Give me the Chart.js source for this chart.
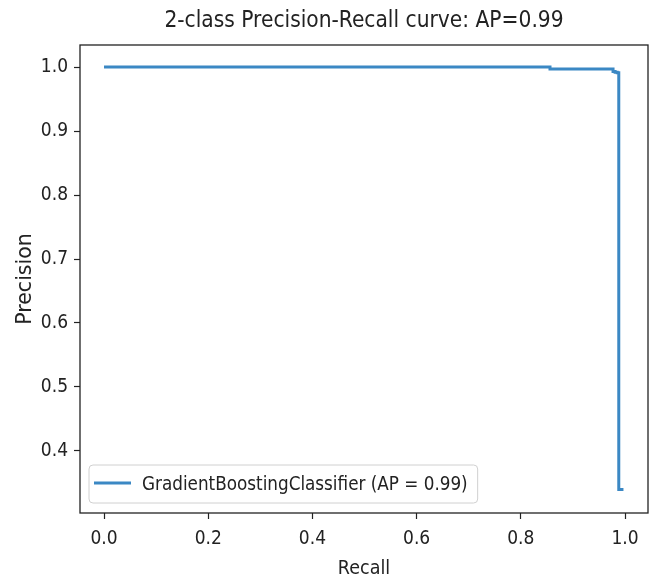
<!DOCTYPE html>
<html>
<head>
<meta charset="utf-8">
<script src="https://cdn.jsdelivr.net/npm/chart.js@4/dist/chart.umd.min.js"></script>
<style>
  html, body { margin: 0; padding: 0; background: #fff; }
  #wrap { width: 658px; height: 583px; }
</style>
</head>
<body>
<div id="wrap"><canvas id="c" width="658" height="583"></canvas></div>
<script>
// ---- data ----
const chartTitle = '2-class Precision-Recall curve: AP=0.99';
const seriesLabel = 'GradientBoostingClassifier (AP = 0.99)';
const recall    = [0.0, 0.856, 0.977, 0.981, 0.985, 0.988, 0.997];
const precision = [1.0, 0.997, 0.993, 0.992, 0.991, 0.340, 0.340];
const xTicks = [0.0, 0.2, 0.4, 0.6, 0.8, 1.0];
const yTicks = [0.4, 0.5, 0.6, 0.7, 0.8, 0.9, 1.0];
const xLabel = 'Recall';
const yLabel = 'Precision';

const FONT = "'DejaVu Sans Condensed', 'DejaVu Sans', sans-serif";
const FONT_WIDE = "'DejaVu Sans', sans-serif";
const lineColor = '#3b88c4';

const points = recall.map((r, i) => ({ x: r, y: precision[i] }));

const framePlugin = {
  id: 'frame',
  afterDatasetsDraw(chart) {
    const { ctx, chartArea: a } = chart;
    ctx.save();
    ctx.strokeStyle = '#222';
    ctx.lineWidth = 1.3;
    ctx.strokeRect(a.left, a.top, a.right - a.left, a.bottom - a.top);
    ctx.restore();
  }
};

const insideLegend = {
  id: 'insideLegend',
  afterDraw(chart) {
    const { ctx, chartArea: a } = chart;
    const ds = chart.data.datasets[0];
    ctx.save();
    ctx.font = '18.7px ' + FONT;
    const tw = ctx.measureText(ds.label).width;
    const h = 38;
    const x = a.left + 9;
    const y = a.bottom - 10 - h;
    const w = 53 + tw + 10;
    ctx.beginPath();
    ctx.roundRect(x, y, w, h, 4);
    ctx.fillStyle = 'rgba(255,255,255,0.8)';
    ctx.fill();
    ctx.strokeStyle = '#d0d0d0';
    ctx.lineWidth = 1;
    ctx.stroke();
    ctx.beginPath();
    ctx.moveTo(x + 5, y + h / 2 - 1);
    ctx.lineTo(x + 42, y + h / 2 - 1);
    ctx.strokeStyle = ds.borderColor;
    ctx.lineWidth = 3;
    ctx.stroke();
    ctx.fillStyle = '#222';
    ctx.textBaseline = 'middle';
    ctx.textAlign = 'left';
    ctx.fillText(ds.label, x + 53, y + h / 2 + 1);
    ctx.restore();
  }
};

new Chart(document.getElementById('c'), {
  type: 'line',
  data: {
    datasets: [{
      label: seriesLabel,
      data: points,
      borderColor: lineColor,
      borderWidth: 3,
      pointRadius: 0,
      stepped: true,
      fill: false,
      tension: 0
    }]
  },
  options: {
    responsive: false,
    animation: false,
    layout: { padding: { left: 0, right: 10, top: 0, bottom: 0 } },
    plugins: {
      legend: { display: false },
      tooltip: { enabled: false },
      title: {
        display: true,
        text: chartTitle,
        fullSize: false,
        color: '#222',
        font: { family: FONT, size: 22.5, weight: 'normal' },
        padding: { top: 8, bottom: 10 }
      }
    },
    scales: {
      x: {
        type: 'linear',
        min: -0.0461,
        max: 1.0441,
        afterBuildTicks: axis => { axis.ticks = xTicks.map(v => ({ value: v })); },
        afterFit: axis => { axis.height = 70; },
        grid: { display: true, drawOnChartArea: false, drawTicks: true, tickLength: 6, tickColor: '#222', tickWidth: 1.2 },
        border: { display: false },
        ticks: {
          color: '#222',
          padding: 9,
          maxRotation: 0,
          font: { family: FONT, size: 19 },
          callback: v => Number(v).toFixed(1)
        },
        title: {
          display: true,
          text: xLabel,
          color: '#222',
          font: { family: FONT, size: 19.5 },
          padding: { top: 0, bottom: 2 }
        }
      },
      y: {
        type: 'linear',
        min: 0.3031,
        max: 1.0344,
        afterBuildTicks: axis => { axis.ticks = yTicks.map(v => ({ value: v })); },
        afterFit: axis => { axis.width = 80; },
        grid: { display: true, drawOnChartArea: false, drawTicks: true, tickLength: 6, tickColor: '#222', tickWidth: 1.2 },
        border: { display: false },
        ticks: {
          color: '#222',
          padding: 6,
          font: { family: FONT, size: 19 },
          callback: v => Number(v).toFixed(1)
        },
        title: {
          display: true,
          text: yLabel,
          color: '#222',
          font: { family: FONT_WIDE, size: 20.5 },
          padding: { top: 13, bottom: 0 }
        }
      }
    }
  },
  plugins: [framePlugin, insideLegend]
});
</script>
</body>
</html>
